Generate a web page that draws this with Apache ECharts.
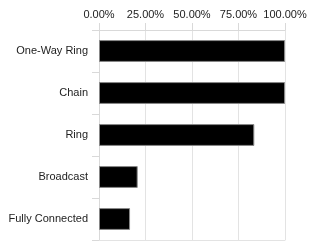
<!DOCTYPE html>
<html><head><meta charset="utf-8">
<script src="https://cdn.jsdelivr.net/npm/echarts@6/dist/echarts.min.js"></script>
<style>html,body{margin:0;padding:0;background:#fff}#c{width:312px;height:246px}</style>
</head><body><div id="c"></div>
<script>
const categories = ["One-Way Ring", "Chain", "Ring", "Broadcast", "Fully Connected"];
const values = [1.0, 1.0, 0.835, 0.208, 0.167];
const tickFormat = v => (v * 100).toFixed(2) + '%';

const chart = echarts.init(document.getElementById('c'), null, {renderer: 'canvas'});
chart.setOption({
  animation: false,
  grid: {left: 99, right: 27, top: 30, bottom: 6, containLabel: false},
  xAxis: [{
    type: 'value', position: 'top', min: 0, max: 1, interval: 0.25,
    axisLine: {show: true, lineStyle: {color: '#d9d9d9'}},
    axisTick: {show: true, length: 7, lineStyle: {color: '#d9d9d9'}},
    splitLine: {show: true, lineStyle: {color: '#e3e3e3'}},
    axisLabel: {formatter: tickFormat, color: '#222', fontFamily: 'Liberation Sans, Arial', fontSize: 11, margin: 10}
  }, {
    type: 'value', position: 'bottom', min: 0, max: 1, interval: 0.25,
    axisLine: {show: true, lineStyle: {color: '#e3e3e3'}},
    axisTick: {show: false}, splitLine: {show: false}, axisLabel: {show: false}
  }],
  yAxis: {
    type: 'category', data: categories, inverse: true,
    axisLine: {show: true, lineStyle: {color: '#d9d9d9'}},
    axisTick: {show: true, length: 7, lineStyle: {color: '#d9d9d9'}},
    splitLine: {show: false},
    axisLabel: {color: '#222', fontFamily: 'Liberation Sans, Arial', fontSize: 11, margin: 11}
  },
  series: [{
    type: 'bar', data: values, barCategoryGap: '48%', xAxisIndex: 0,
    itemStyle: {color: '#000', borderColor: '#888', borderWidth: 1}
  }]
});
</script></body></html>
